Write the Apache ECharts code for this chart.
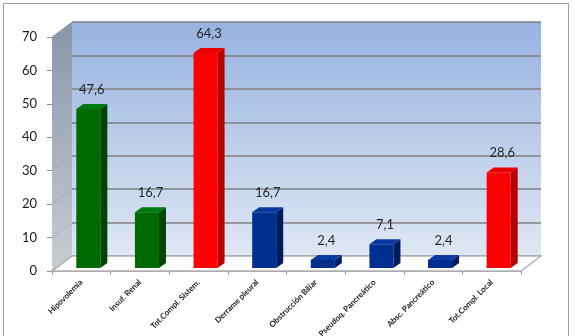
<!DOCTYPE html>
<html lang="es">
<head>
    <meta charset="UTF-8">
    <title>Complicaciones</title>
    <style type="text/css">
        html, body { margin: 0; padding: 0; background: #fff; }
        #main { width: 575px; height: 336px; }
    </style>
    <script src="https://cdn.jsdelivr.net/npm/echarts@6/dist/echarts.min.js"></script>
</head>
<body>
    <div id="main"></div>
    <script type="text/javascript">
        // datos
        var categorias = ['Hipovolemia', 'Insuf. Renal', 'Tot.Compl. Sistem.', 'Derrame pleural',
            'Obstrucción Biliar', 'Pseudoq. Pancreático', 'Absc. Pancreático', 'Tot.Compl. Local'];
        var valores = [47.6, 16.7, 64.3, 16.7, 2.4, 7.1, 2.4, 28.6];
        var grupos = ['verde', 'verde', 'rojo', 'azul', 'azul', 'azul', 'azul', 'rojo'];
        var ticksY = [0, 10, 20, 30, 40, 50, 60, 70];

        var colores = {
            verde: { front: '#006a00', side: '#004600', top: '#007a10' },
            rojo: { front: '#ff0000', side: '#b80000', top: '#e80000' },
            azul: { front: '#00308f', side: '#001c5e', top: '#0a3aa0' }
        };

        // caja 3D (frente y fondo)
        var F = { left: 52, top: 37, right: 54, bottom: 65 };
        var DX = 20, DY = -15;
        var B = { left: F.left + DX, top: F.top + DY, right: F.right - DX, bottom: F.bottom - DY };
        var W = 575, H = 336;
        var fx0 = F.left, fx1 = W - F.right, fy0 = F.top, fy1 = H - F.bottom;

        function fmt(v) { return String(v).replace('.', ','); }

        function renderBar(params, api) {
            var c = api.value(0), v = api.value(1);
            var base = api.coord([c, 0]);
            var top = api.coord([c, v]);
            var band = api.size([1, 0])[0];
            var w = band * 0.41;
            var x0 = base[0] - w / 2 + 7, x1 = x0 + w;
            var yb = base[1] - 3, yt = top[1] - 3;
            var dx = 7, dy = -5;
            var col = colores[grupos[params.dataIndex]];
            return {
                type: 'group',
                children: [
                    { type: 'rect', shape: { x: x0, y: yt, width: w, height: yb - yt }, style: { fill: col.front } },
                    { type: 'polygon', shape: { points: [[x1, yt], [x1 + dx, yt + dy], [x1 + dx, yb + dy], [x1, yb]] }, style: { fill: col.side } },
                    { type: 'polygon', shape: { points: [[x0, yt], [x0 + dx, yt + dy], [x1 + dx, yt + dy], [x1, yt]] }, style: { fill: col.top } },
                    {
                        type: 'text',
                        style: {
                            text: fmt(v), x: (x0 + x1 + dx) / 2, y: yt + dy - 8,
                            align: 'center', verticalAlign: 'bottom',
                            font: '13px Lato', fill: '#262626'
                        }
                    }
                ]
            };
        }

        var myChart = echarts.init(document.getElementById('main'));

        // lineas del muro lateral
        var lateral = [];
        ticksY.forEach(function (t) {
            var y = fy1 - (fy1 - fy0) * t / 70;
            lateral.push({
                type: 'line', z: 1, silent: true,
                shape: { x1: fx0, y1: y, x2: fx0 + DX, y2: y + DY },
                style: { stroke: '#9aa2b0', lineWidth: 1, opacity: t === 70 ? 1 : 0.6 }
            });
        });

        var option = {
            backgroundColor: '#fff',
            animation: false,
            grid: [
                {
                    left: B.left, top: B.top, right: B.right, bottom: B.bottom, show: true, z: 0,
                    borderWidth: 0, containLabel: false, outerBoundsMode: 'none',
                    backgroundColor: new echarts.graphic.LinearGradient(0, 0, 0, 1, [
                        { offset: 0, color: '#97b3df' },
                        { offset: 1, color: '#dfe7f4' }
                    ])
                },
                {
                    left: F.left, top: F.top, right: F.right, bottom: F.bottom,
                    containLabel: false, outerBoundsMode: 'none'
                }
            ],
            xAxis: [
                { gridIndex: 0, type: 'category', data: categorias, show: false },
                {
                    gridIndex: 1, type: 'category', data: categorias,
                    axisLine: { show: true, lineStyle: { color: '#a6a6a6', width: 2 } },
                    axisTick: { show: true, length: 4, interval: 0, lineStyle: { color: '#a6a6a6' } },
                    axisLabel: {
                        interval: 0, rotate: 45, margin: 10,
                        fontFamily: 'Lato', fontSize: 8, fontWeight: 'bold', color: '#1a1a1a'
                    }
                }
            ],
            yAxis: [
                {
                    gridIndex: 0, type: 'value', min: 0, max: 70, interval: 10,
                    axisLine: { show: false }, axisTick: { show: false }, axisLabel: { show: false },
                    splitLine: { show: true, lineStyle: { color: '#7f7f7f', width: 1.5 } }
                },
                {
                    gridIndex: 1, type: 'value', min: 0, max: 70, interval: 10,
                    axisLine: { show: true, lineStyle: { color: '#8c8c8c' } },
                    axisTick: { show: true, length: 5, lineStyle: { color: '#8c8c8c' } },
                    axisLabel: { margin: 15, fontFamily: 'Lato', fontSize: 13, color: '#1a1a1a' },
                    splitLine: { show: false }
                }
            ],
            graphic: [
                {
                    type: 'rect', z: -1, silent: true,
                    shape: { x: 3.5, y: 3.5, width: 565, height: 340 },
                    style: { fill: null, stroke: '#a0a0a0', lineWidth: 1 }
                },
                {
                    // muro lateral
                    type: 'polygon', z: 1, silent: true,
                    shape: { points: [[fx0, fy0], [fx0 + DX, fy0 + DY], [fx0 + DX, fy1 + DY], [fx0, fy1]] },
                    style: {
                        fill: new echarts.graphic.LinearGradient(0, 0, 0, 1, [
                            { offset: 0, color: '#8895aa' },
                            { offset: 1, color: '#c9ccd3' }
                        ])
                    }
                },
                {
                    // piso
                    type: 'polygon', z: 1, silent: true,
                    shape: { points: [[fx0, fy1], [fx0 + DX, fy1 + DY], [fx1 + DX, fy1 + DY], [fx1, fy1]] },
                    style: { fill: '#ffffff', stroke: '#b0b0b0', lineWidth: 1.5 }
                }
            ].concat(lateral),
            series: [
                {
                    type: 'custom', xAxisIndex: 1, yAxisIndex: 1, z: 5,
                    renderItem: renderBar,
                    data: valores.map(function (v, i) { return [i, v]; })
                }
            ]
        };
        myChart.setOption(option);
    </script>
</body>
</html>
